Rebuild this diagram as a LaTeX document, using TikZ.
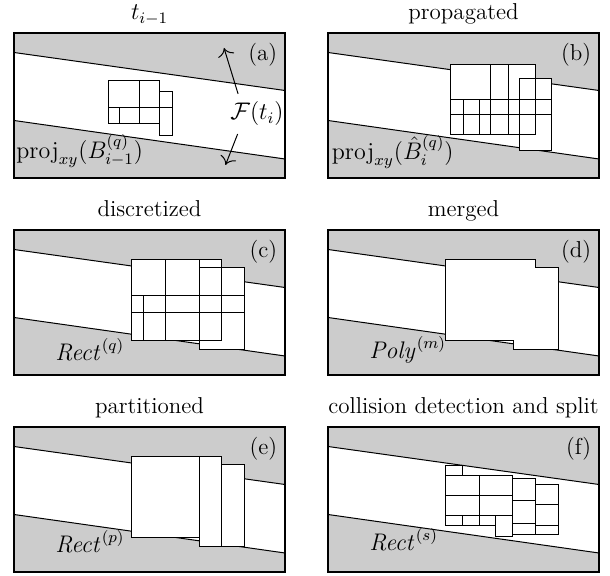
\documentclass[tikz,border=0pt]{standalone}
\usepackage{tikz,amsmath}
\usetikzlibrary{arrows.meta}
\definecolor{wall}{HTML}{CCCCCC}
\newcommand{\field}{%
  \fill[wall] (0,0) -- (271,0) -- (271,57.5) -- (0,19.5) -- cycle;
  \fill[wall] (0,87.5) -- (271,126) -- (271,145) -- (0,145) -- cycle;
  \draw[wline] (0,19.5) -- (271,57.5);
  \draw[wline] (0,87.5) -- (271,126);
  \draw[panel] (0,0) rectangle (271,145);
}
\tikzset{
  panel/.style={draw=black,line width=0.8pt},
  wline/.style={draw=black,line width=0.5pt},
  blk/.style={draw=black,fill=white,line width=0.5pt},
  ttl/.style={anchor=base,inner sep=0pt},
  tag/.style={anchor=north east,inner sep=0pt},
  blab/.style={anchor=base west,inner sep=0pt},
  ar/.style={-{To[length=4pt]},line width=0.5pt,shorten <=3pt},
}

\begin{document}
\begin{tikzpicture}[x=0.5pt,y=-0.5pt,font=\fontsize{11.5}{14}\selectfont]
\useasboundingbox (0,0) rectangle (610,576);
% (a) box set at the previous step
\begin{scope}[shift={(14,33)}]
\field
\node[ttl] (ttlA) at (135.5,-13.5) {$t_{i-1}$};
\node[tag] (tagA) at (263.5,10) {(a)};
\draw[blk] (94.5,48) rectangle (125.5,74.5) (125.5,48) rectangle (145.5,74.5)
  (94.5,74.5) rectangle (105.5,90.5) (105.5,74.5) rectangle (125.5,90.5)
  (125.5,74.5) rectangle (145.5,90.5) (145.5,59) rectangle (158.5,74.5)
  (145.5,74.5) rectangle (158.5,102.5);
\node[blab] (labA) at (2,125.5) {$\mathrm{proj}_{xy}(B^{(q)}_{i-1})$};
\node[inner sep=1pt] (ft) at (243,81) {$\mathcal{F}(t_i)$};
\coordinate (up) at (210,15);
\coordinate (dn) at (211.5,132);
\draw[ar] (ft.140) -- (up);
\draw[ar] (ft.220) -- (dn);
\end{scope}
% (b) propagated
\begin{scope}[shift={(328,33)}]
\field
\node[ttl] (ttlB) at (135.5,-13.5) {propagated};
\node[tag] (tagB) at (263.5,10) {(b)};
\draw[blk] (122,32) rectangle (207,102) (191,46) rectangle (223,118);
\draw[wline] (122,66.5) -- (223,66.5) (122,82) -- (223,82)
  (162,32) -- (162,102) (180.5,32) -- (180.5,102)
  (135.5,66.5) -- (135.5,102) (151,66.5) -- (151,102);
\node[blab] (labB) at (3.5,126.5) {$\mathrm{proj}_{xy}(\hat{B}^{(q)}_{i})$};
\end{scope}
% (c) discretized
\begin{scope}[shift={(14,230)}]
\field
\node[ttl] (ttlC) at (135.5,-13.5) {discretized};
\node[tag] (tagC) at (263.5,10) {(c)};
\draw[blk] (117.5,29.5) rectangle (207.5,110.5) (185.5,37.5) rectangle (230,119.5);
\draw[wline] (117.5,65.5) -- (230,65.5) (117.5,83) -- (230,83)
  (151.5,29.5) -- (151.5,110.5) (129,65.5) -- (129,110.5)
  (185.5,29.5) -- (185.5,119.5);
\node[blab] (labC) at (41,131) {$\mathit{Rect}^{(q)}$};
\end{scope}
% (d) merged
\begin{scope}[shift={(328,230)}]
\field
\node[ttl] (ttlD) at (135.5,-13.5) {merged};
\node[tag] (tagD) at (263.5,10) {(d)};
\draw[blk] (117.5,29.5) -- (207.5,29.5) -- (207.5,37.5) -- (230,37.5)
  -- (230,119.5) -- (185.5,119.5) -- (185.5,110.5) -- (117.5,110.5) -- cycle;
\node[blab] (labD) at (41,128.5) {$\mathit{Poly}^{(m)}$};
\end{scope}
% (e) partitioned
\begin{scope}[shift={(14,427)}]
\field
\node[ttl] (ttlE) at (135.5,-13.5) {partitioned};
\node[tag] (tagE) at (263.5,10) {(e)};
\draw[blk] (117.5,29.5) rectangle (185.5,110.5) (185.5,29.5) rectangle (207.5,119.5)
  (207.5,37.5) rectangle (230,119.5);
\node[blab] (labE) at (41,125.5) {$\mathit{Rect}^{(p)}$};
\end{scope}
% (f) collision detection and split
\begin{scope}[shift={(328,427)}]
\field
\node[ttl] (ttlF) at (135.5,-13.5) {collision detection and split};
\node[tag] (tagF) at (263.5,10) {(f)};
\draw[blk] (117.5,39) rectangle (134,48.5)
  (117.5,48.5) rectangle (151,69) (151,48.5) rectangle (184.5,69)
  (117.5,69) rectangle (151,89) (151,69) rectangle (184.5,89)
  (117.5,89) rectangle (134,99) (134,89) rectangle (151,99)
  (151,89) rectangle (167.5,99) (167.5,89) rectangle (184.5,109.5)
  (184.5,51.5) rectangle (207.5,74) (184.5,74) rectangle (207.5,96.5)
  (184.5,96.5) rectangle (207.5,107.5)
  (207.5,58) rectangle (230,78) (207.5,78) rectangle (230,98.5)
  (207.5,98.5) rectangle (230,108);
\node[blab] (labF) at (41,124) {$\mathit{Rect}^{(s)}$};
\end{scope}
\end{tikzpicture}
\end{document}
